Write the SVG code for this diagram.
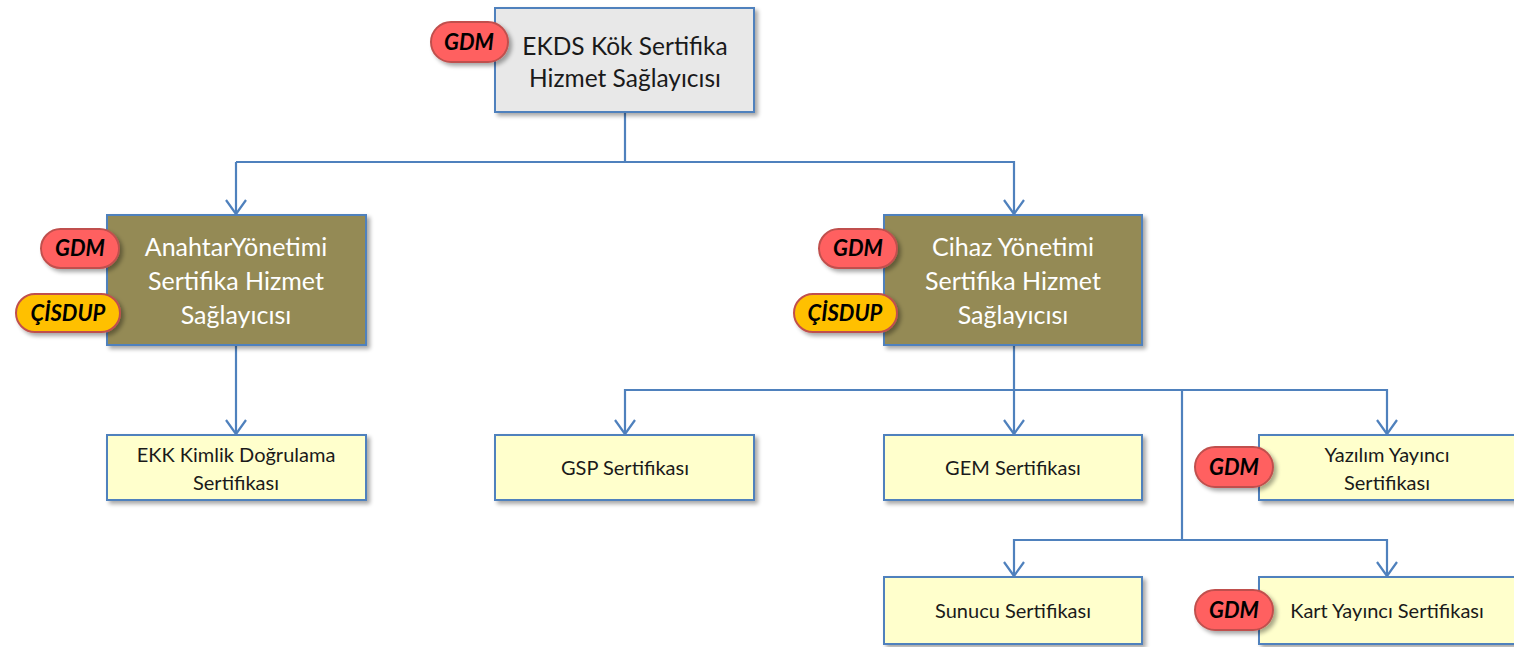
<svg xmlns="http://www.w3.org/2000/svg" width="1514" height="647" viewBox="0 0 1514 647">
  <style>
    .box { stroke: #4f81bd; stroke-width: 2; filter: url(#shadow); }
    .root { fill: #e8e8e8; }
    .mid { fill: #948a54; }
    .leaf { fill: #ffffcc; }
    .lbl { font-family: Lato, "Liberation Sans", sans-serif; text-anchor: middle; }
    .big { font-size: 24.5px; }
    .midtxt { font-size: 25px; fill: #ffffff; }
    .dark { fill: #1a1a1a; }
    .small { font-size: 20px; fill: #1a1a1a; }
    .pill { stroke: #c0504d; stroke-width: 2; filter: url(#shadow); }
    .gdm { fill: #ff6161; }
    .cis { fill: #ffc000; }
    .tag { font-family: Lato, "Liberation Sans", sans-serif; font-size: 22px; font-weight: bold; font-style: italic; fill: #000; text-anchor: middle; }
    .wire { fill: none; stroke: #4f81bd; stroke-width: 2.2; }
  </style>
  <defs>
    <filter id="shadow" x="-10%" y="-10%" width="130%" height="140%">
      <feGaussianBlur in="SourceAlpha" stdDeviation="2"/>
      <feOffset dx="3" dy="3" result="b"/>
      <feComponentTransfer><feFuncA type="linear" slope="0.35"/></feComponentTransfer>
      <feMerge><feMergeNode/><feMergeNode in="SourceGraphic"/></feMerge>
    </filter>
    <!-- open V arrowhead, drawn along +x so orient="auto" points it down the line -->
    <marker id="open" markerWidth="20" markerHeight="22" refX="16" refY="11" orient="auto" markerUnits="userSpaceOnUse" viewBox="0 0 20 22">
      <path d="M2,1 L16,11 L2,21" fill="none" stroke="#4f81bd" stroke-width="2.2"/>
    </marker>
  </defs>

  <g id="connectors">
    <path class="wire" d="M625,112 V162 H236"/>
    <path class="wire" d="M236,162 V214" marker-end="url(#open)"/>
    <path class="wire" d="M625,162 H1014 V214" marker-end="url(#open)"/>
    <path class="wire" d="M236,345 V434" marker-end="url(#open)"/>
    <path class="wire" d="M1014,345 V390"/>
    <path class="wire" d="M1014,390 H625 V434" marker-end="url(#open)"/>
    <path class="wire" d="M1014,390 V434" marker-end="url(#open)"/>
    <path class="wire" d="M1014,390 H1387 V434" marker-end="url(#open)"/>
    <path class="wire" d="M1182,390 V540 H1014 V576" marker-end="url(#open)"/>
    <path class="wire" d="M1182,540 H1387 V576" marker-end="url(#open)"/>
  </g>

  <g id="root-csp">
    <rect class="box root" x="495" y="8" width="259" height="104"/>
    <text class="lbl big dark" x="625" y="55">EKDS Kök Sertifika</text>
    <text class="lbl big dark" x="625" y="87">Hizmet Sağlayıcısı</text>
    <rect class="pill gdm" x="431" y="22" width="77" height="40" rx="20"/>
    <text class="tag" x="469" y="50">GDM</text>
  </g>

  <g id="key-mgmt-csp">
    <rect class="box mid" x="107" y="215" width="259" height="130"/>
    <text class="lbl midtxt" x="236" y="256">AnahtarYönetimi</text>
    <text class="lbl midtxt" x="236" y="290">Sertifika Hizmet</text>
    <text class="lbl midtxt" x="236" y="324">Sağlayıcısı</text>
    <rect class="pill gdm" x="41" y="229" width="78" height="39" rx="19.5"/>
    <text class="tag" x="80" y="256">GDM</text>
    <rect class="pill cis" x="16" y="294" width="104" height="38" rx="19"/>
    <text class="tag" x="68" y="321">ÇİSDUP</text>
  </g>

  <g id="device-mgmt-csp">
    <rect class="box mid" x="884" y="215" width="258" height="130"/>
    <text class="lbl midtxt" x="1013" y="256">Cihaz Yönetimi</text>
    <text class="lbl midtxt" x="1013" y="290">Sertifika Hizmet</text>
    <text class="lbl midtxt" x="1013" y="324">Sağlayıcısı</text>
    <rect class="pill gdm" x="819" y="229" width="78" height="39" rx="19.5"/>
    <text class="tag" x="858" y="256">GDM</text>
    <rect class="pill cis" x="794" y="294" width="103" height="38" rx="19"/>
    <text class="tag" x="845" y="321">ÇİSDUP</text>
  </g>

  <g id="ekk-auth">
    <rect class="box leaf" x="107" y="435" width="259" height="65"/>
    <text class="lbl small" x="236" y="462">EKK Kimlik Doğrulama</text>
    <text class="lbl small" x="236" y="490">Sertifikası</text>
  </g>

  <g id="gsp">
    <rect class="box leaf" x="495" y="435" width="259" height="65"/>
    <text class="lbl small" x="625" y="475">GSP Sertifikası</text>
  </g>

  <g id="gem">
    <rect class="box leaf" x="884" y="435" width="258" height="65"/>
    <text class="lbl small" x="1013" y="475">GEM Sertifikası</text>
  </g>

  <g id="software-publisher">
    <rect class="box leaf" x="1259" y="435" width="262" height="65"/>
    <text class="lbl small" x="1387" y="462">Yazılım Yayıncı</text>
    <text class="lbl small" x="1387" y="490">Sertifikası</text>
    <rect class="pill gdm" x="1195" y="447" width="78" height="40" rx="20"/>
    <text class="tag" x="1234" y="475">GDM</text>
  </g>

  <g id="server">
    <rect class="box leaf" x="884" y="577" width="258" height="67"/>
    <text class="lbl small" x="1013" y="618">Sunucu Sertifikası</text>
  </g>

  <g id="card-issuer">
    <rect class="box leaf" x="1259" y="577" width="262" height="67"/>
    <text class="lbl small" x="1387" y="618">Kart Yayıncı Sertifikası</text>
    <rect class="pill gdm" x="1195" y="590" width="78" height="40" rx="20"/>
    <text class="tag" x="1234" y="618">GDM</text>
  </g>
</svg>
